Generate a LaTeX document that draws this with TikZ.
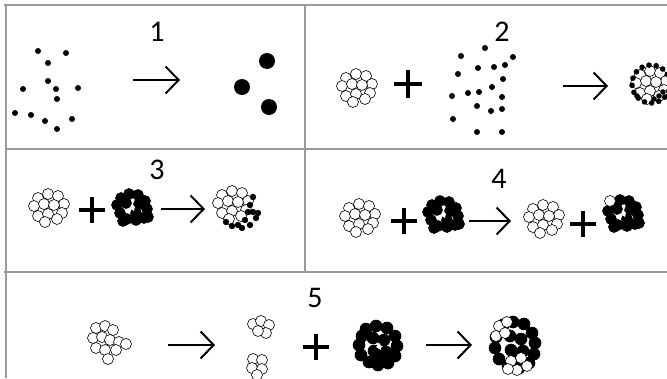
\documentclass[tikz,border=0pt]{standalone}
\usepackage{fontspec}
\setmainfont{Carlito}
\usetikzlibrary{arrows.meta}

\tikzset{
  gridline/.style={black!40, line width=1.4pt},
  react/.style={line width=2pt, -{Straight Barb[length=13pt,width=27pt]}},
  bigplus/.style={line width=3.6pt},
  num/.style={inner sep=0pt, font=\fontsize{30}{30}\selectfont},
  wcirc/.style={draw=black, line width=0.6pt, fill=white},
  bcirc/.style={draw=black, line width=0.6pt, fill=black},
}

% clumps of particles, #1 = centre
\newcommand{\whiteblob}[1]{%
  \foreach \dx/\dy in {-11/-9,-1/-13,9/-11,15/-3,-15/-1,-5/-3,5/-2,13/6,-11/9,-1/7,8/12,-4/15}
    \draw[wcirc, shift={(#1)}] (\dx,\dy) circle (5.5pt);}
\newcommand{\blackblob}[1]{%
  \foreach \dx/\dy in {-11/-10,-3/-14,6/-13,13/-7,15/1,12/10,4/12,-5/11,-12/5,-15/-3,
                       -6/-5,4/5,7/-4,-9/13,16/9}
    \draw[bcirc, shift={(#1)}] (\dx,\dy) circle (5.5pt);
  \fill[white, shift={(#1)}] (-1,1) -- (3,-2) -- (2,3) -- cycle;}
\newcommand{\plussign}[2]{%
  \draw[bigplus, shift={(#1)}] (-#2,0) -- (#2,0) (0,-#2) -- (0,#2);}

\begin{document}
\begin{tikzpicture}[x=1pt, y=-1pt]

    \useasboundingbox (0,0) rectangle (667,378);

    % table lines
    \draw[gridline] (4,5) -- (667,5);
    \draw[gridline] (6,5) -- (6,378);
    \draw[gridline] (305,5) -- (305,272);
    \draw[gridline] (6,149) -- (667,149);
    \draw[gridline] (4,272) -- (667,272);

    % numbers
    \node[num] (n1) at (157,32) {1};
    \node[num] (n2) at (502,32) {2};
    \node[num] (n3) at (157,170) {3};
    \node[num] (n4) at (499,179) {4};
    \node[num] (n5) at (315,298) {5};

    % 1: atoms -> nuclei
    \foreach \p in {(38,51),(66,53),(48,63),(48,81),(23,89),(56,89),(78,88),
                    (57,99),(15,113),(31,115),(45,121),(72,119),(57,129)}
      \fill \p circle (3pt);

    \coordinate (a1s) at (133,80);
    \coordinate (a1e) at (180,80);
    \draw[react] (a1s) -- (a1e);

    \fill (267,61) circle (8pt);
    \fill (242,87) circle (8pt);
    \fill (269,107) circle (8pt);

    % 2: seed + atoms -> coated seed
    \whiteblob{357,87}
    \plussign{408,84}{14}
    \foreach \p in {(485,48),(461,56),(513,57),(478,68),(494,67),(505,65),(458,74),
                    (503,79),(492,87),(452,96),(468,93),(479,92),(502,97),(477,106),
                    (491,111),(502,109),(453,119),(477,132),(502,132)}
      \fill \p circle (3pt);

    \coordinate (a2s) at (563,86);
    \coordinate (a2e) at (608,86);
    \draw[react] (a2s) -- (a2e);

    \whiteblob{651,84}
    \foreach \a in {0,22,...,350}
      \fill[shift={(651,84)}] (\a:19) circle (2.8pt);
    \foreach \p in {(8,12),(12,8),(3,15),(-14,12)}
      \fill[shift={(651,84)}] \p circle (2.8pt);

    % 3
    \whiteblob{49,207}
    \plussign{92,210}{13}
    \blackblob{132,208}

    \coordinate (a3s) at (161,209);
    \coordinate (a3e) at (205,209);
    \draw[react] (a3s) -- (a3e);

    \whiteblob{233,204}
    \foreach \p in {(250,205),(253,212),(256,218),(245,220),(238,225),(232,226),
                    (226,222),(242,228),(250,225),(258,213),(248,212),(253,197)}
      \fill \p circle (3.2pt);

    % 4
    \whiteblob{360,217}
    \plussign{404,221}{13}
    \blackblob{443,215}

    \coordinate (a4s) at (469,221);
    \coordinate (a4e) at (511,221);
    \draw[react] (a4s) -- (a4e);

    \whiteblob{544,218}
    \plussign{583,224}{13}
    \blackblob{623,214}
    \draw[wcirc] (610,201) circle (5.5pt);

    % 5
    \foreach \dx/\dy in {-12/-14,-3/-16,5/-12,-15/-4,-6/-5,2/-2,11/0,18/2,-12/6,-3/8,8/8,0/17}
      \draw[wcirc, shift={(108,342)}] (\dx,\dy) circle (5.5pt);

    \coordinate (a5s) at (168,345);
    \coordinate (a5e) at (215,345);
    \draw[react] (a5s) -- (a5e);

    \foreach \dx/\dy in {-8/-4,0/-7,8/-3,5/5,-3/3}
      \draw[wcirc, shift={(261,328)}] (\dx,\dy) circle (5.5pt);
    \foreach \dx/\dy in {-5/-7,4/-6,-6/2,4/3,-1/9}
      \draw[wcirc, shift={(258,366)}] (\dx,\dy) circle (5.5pt);

    \plussign{316,347}{13}

    \foreach \dx/\dy in {-12/-16,-2/-19,9/-17,17/-9,19/1,17/11,10/18,0/20,-9/17,
                         -17/10,-19/0,-16/-9,-5/-7,6/-5,8/7,-4/6,1/13}
      \draw[bcirc, shift={(378,345)}] (\dx,\dy) circle (6pt);
    \fill[white] (376,347) -- (380,343) -- (381,350) -- cycle;

    \coordinate (a6s) at (426,345);
    \coordinate (a6e) at (472,345);
    \draw[react] (a6s) -- (a6e);

    \foreach \dx/\dy in {-12/-20,-2/-23,9/-21,17/-12,20/-2,19/9,14/18,4/23,-7/21,
                         -16/14,-20/3,-19/-8,-5/-9,6/-6,8/6,-4/5,1/13}
      \draw[bcirc, shift={(515,345)}] (\dx,\dy) circle (6pt);
    \foreach \dx/\dy in {-16/-19,-8/-23,-19/-9,-10/-12}
      \draw[wcirc, shift={(515,345)}] (\dx,\dy) circle (5.5pt);
    \foreach \dx/\dy in {-4/16,6/13,12/21,2/25,-7/24}
      \draw[wcirc, shift={(515,345)}] (\dx,\dy) circle (5.5pt);

\end{tikzpicture}
\end{document}
